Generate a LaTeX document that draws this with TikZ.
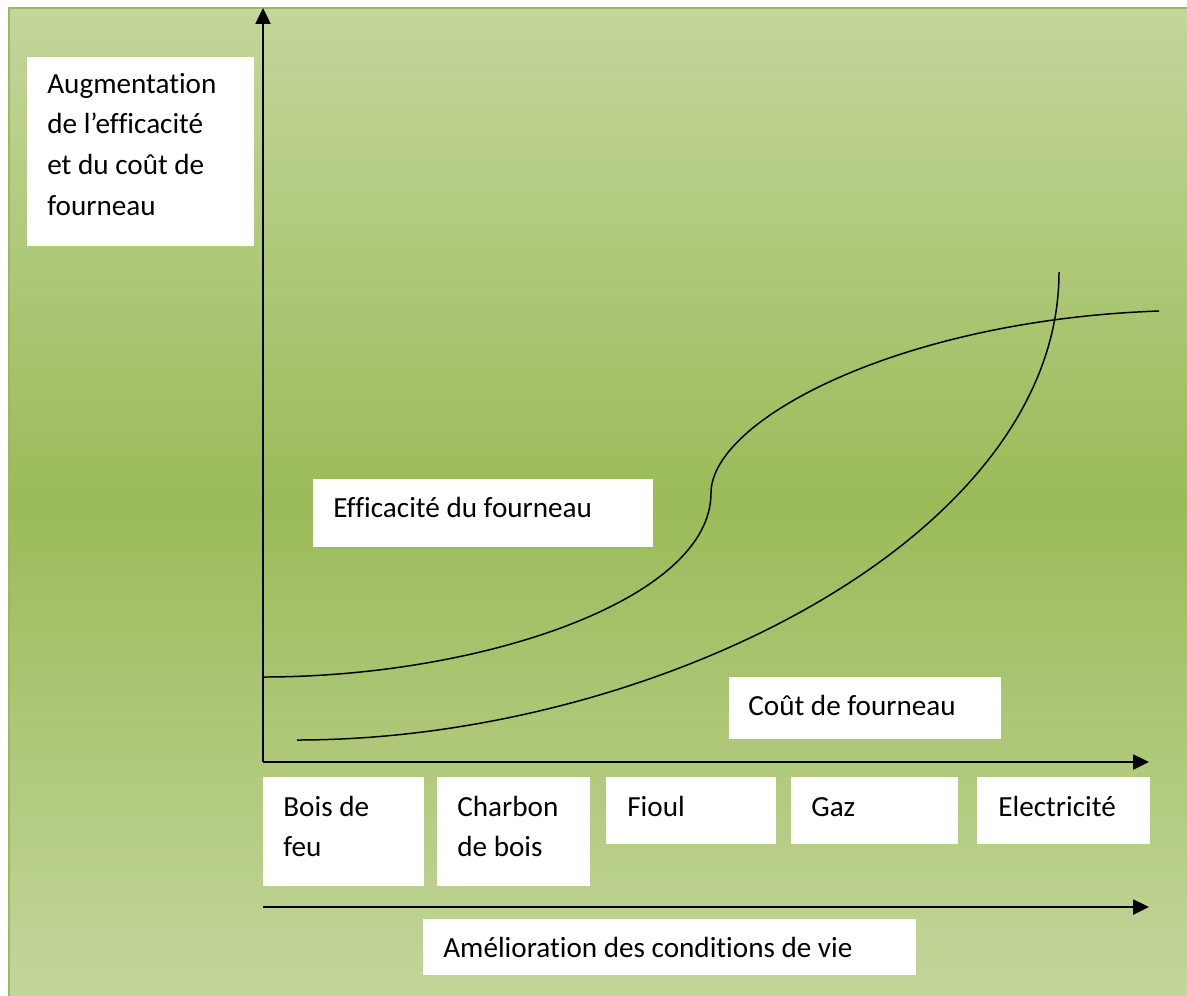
\documentclass[tikz,border=0pt]{standalone}
\usepackage{fontspec}
\setmainfont{Carlito}[Ligatures=NoCommon]
\usetikzlibrary{arrows.meta}
\definecolor{gLight}{RGB}{195,214,155}
\definecolor{gDark}{RGB}{155,187,89}
\newcommand\lblfont{\fontsize{16.6}{23.2}\selectfont}
\tikzset{
  whitebox/.style={fill=white, draw=none, anchor=north west, inner sep=0pt},
  txt/.style={anchor=base west, inner sep=0pt, font=\lblfont, text=black},
  axisarrow/.style={line width=1.2pt, -{Triangle[length=9pt,width=8.5pt]}},
  curveline/.style={line width=0.85pt},
}
\begin{document}
\begin{tikzpicture}[x=0.02cm, y=-0.02cm]
\useasboundingbox (0,0) rectangle (1187,995);
% background frame
\fill[white] (0,0) rectangle (1187,995);
\shade[top color=gLight, bottom color=gLight, middle color=gDark] (8,7) rectangle (1190,998);
\draw[gDark, line width=1.2pt] (1192,8) -- (9,8) -- (9,999);

% white boxes
\node[whitebox, minimum width=4.54cm, minimum height=3.78cm] (ybox) at (27,57) {};
\node[whitebox, minimum width=6.80cm, minimum height=1.36cm] (effbox) at (313,479) {};
\node[whitebox, minimum width=5.44cm, minimum height=1.24cm] (coutbox) at (729,677) {};
\node[whitebox, minimum width=3.22cm, minimum height=2.18cm] (b1) at (263,777) {};
\node[whitebox, minimum width=3.06cm, minimum height=2.18cm] (b2) at (437,777) {};
\node[whitebox, minimum width=3.40cm, minimum height=1.34cm] (b3) at (606,777) {};
\node[whitebox, minimum width=3.34cm, minimum height=1.34cm] (b4) at (791,777) {};
\node[whitebox, minimum width=3.46cm, minimum height=1.34cm] (b5) at (977,777) {};
\node[whitebox, minimum width=9.86cm, minimum height=1.12cm] (amelbox) at (423,919) {};

% texts
\node[txt] (ylab) at (47,93) {\parbox[t]{4cm}{\lblfont Augmentation\\de l’efficacité\\et du coût de\\fourneau}};
\node[txt] (efflab) at (333,517) {Efficacité du fourneau};
\node[txt] (coutlab) at (748,715) {Coût de fourneau};
\node[txt] (t1) at (283,816) {\parbox[t]{3cm}{\lblfont Bois de\\feu}};
\node[txt] (t2) at (457,816) {\parbox[t]{3cm}{\lblfont Charbon\\de bois}};
\node[txt] (t3) at (627,816) {Fioul};
\node[txt] (t4) at (811,816) {Gaz};
\node[txt] (t5) at (998,816) {Electricité};
\node[txt] (amellab) at (443,957) {Amélioration des conditions de vie};

% axes
\coordinate (O) at (263,762);
\coordinate (ytip) at (263,8);
\coordinate (xtip) at (1149,762);
\coordinate (a0) at (263,907);
\coordinate (a1) at (1149,907);
\draw[axisarrow] (O) -- (ytip);
\draw[axisarrow] (O) -- (xtip);
\draw[axisarrow] (a0) -- (a1);

% curves
\coordinate (e0) at (263,677);
\coordinate (e1) at (711,493);
\coordinate (e2) at (1159,311);
\draw[curveline] (e0) .. controls (480,677) and (711,600) .. (e1)
                      .. controls (711,420) and (900,320) .. (e2);
\coordinate (c0) at (297,740);
\coordinate (c1) at (1059,272);
\draw[curveline] (c0) .. controls (650,740) and (1059,540) .. (c1);
\end{tikzpicture}
\end{document}
